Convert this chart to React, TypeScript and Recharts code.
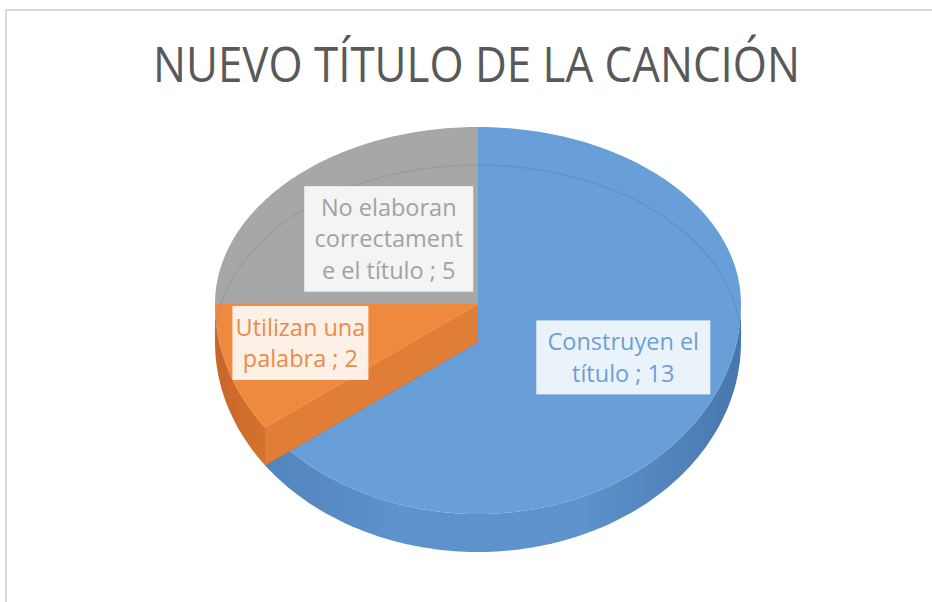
import React from "react";
import { PieChart, Pie } from "recharts";

// chart data
const categories = [
  "Construyen el título",
  "Utilizan una palabra",
  "No elaboran correctamente el título",
];
const values = [13, 2, 5];
const labelLines = [
  ["Construyen el", "título"],
  ["Utilizan una", "palabra"],
  ["No elaboran", "correctament", "e el título"],
];
const chartTitle = "NUEVO TÍTULO DE LA CANCIÓN";

const data = categories.map((name, i) => ({ name, value: values[i] }));

// look
const topColors = ["#689FD8", "#EE893E", "#A7A7A7"];
const wallColors = ["#5B8FC8", "#E07D36", "#909090"];
const lineColors = ["#4C7DB6", "#C96A26", "#8A8A8A"];
const textColors = ["#6C9FD5", "#EA8B4B", "#A2A2A2"];

const RX = 263;
const RY_BACK = 177;
const RY_FRONT = 210;
const DEPTH = 38;
const LINE_H = 31.5;
const FONT = "'Open Sans', 'Noto Sans', sans-serif";
const LABEL_FX = [0.62, 0.71, 0.48];
const LABEL_FY = [0.56, 0.6, 0.52];
const BOX_W = [174, 136, 169];

type P = [number, number];

const pt = (cx: number, cy: number, r: number, a: number, dy = 0): P => {
  const rad = (a * Math.PI) / 180;
  const s = Math.sin(rad);
  const ry = ((s > 0 ? RY_BACK : RY_FRONT) * r) / RX;
  return [cx + r * Math.cos(rad), cy - s * ry + dy];
};

const arc = (cx: number, cy: number, r: number, a1: number, a2: number, dy = 0) => {
  const n = Math.max(2, Math.ceil(Math.abs(a2 - a1)));
  const pts: P[] = [];
  for (let k = 0; k <= n; k++) pts.push(pt(cx, cy, r, a1 + ((a2 - a1) * k) / n, dy));
  return pts;
};

const toPath = (pts: P[]) =>
  pts.map((p, i) => `${i ? "L" : "M"}${p[0].toFixed(1)},${p[1].toFixed(1)}`).join("");

const renderSide = (p: any) => {
  const { cx, cy, outerRadius: r, startAngle, endAngle, index } = p;
  const hi = Math.min(startAngle, 0);
  const lo = Math.max(endAngle, -180);
  const defs =
    index === 0 ? (
      <defs>
        <linearGradient id="side0" gradientUnits="userSpaceOnUse" x1={cx - r} x2={cx + r} y1={0} y2={0}>
          <stop offset="0" stopColor="#4F7FB8" />
          <stop offset="0.35" stopColor="#5D92CC" />
          <stop offset="0.7" stopColor="#5D92CC" />
          <stop offset="1" stopColor="#4877AE" />
        </linearGradient>
        <linearGradient id="side1" gradientUnits="userSpaceOnUse" x1={cx - r} x2={cx - r + 80} y1={0} y2={0}>
          <stop offset="0" stopColor="#C7662A" />
          <stop offset="1" stopColor="#DE7A33" />
        </linearGradient>
        <linearGradient id="side2" x1="0" x2="1" y1="0" y2="0">
          <stop offset="0" stopColor="#8C8C8C" />
          <stop offset="1" stopColor="#8C8C8C" />
        </linearGradient>
      </defs>
    ) : null;
  if (hi <= lo) return <g>{defs}</g>;
  const pts = [...arc(cx, cy, r, hi, lo), ...arc(cx, cy, r, lo, hi, DEPTH)];
  return (
    <g>
      {defs}
      <path d={toPath(pts) + "Z"} fill={`url(#side${index})`} />
    </g>
  );
};

const renderTop = (p: any) => {
  const { cx, cy, outerRadius: r, startAngle, endAngle, index } = p;
  const face = toPath([[cx, cy], ...arc(cx, cy, r, startAngle, endAngle)]) + "Z";
  // back rim of the bottom face, seen through the translucent top
  const back = arc(cx, cy, r, startAngle, endAngle, DEPTH).filter(
    (_, k, all) => {
      const a = startAngle + ((endAngle - startAngle) * k) / (all.length - 1);
      return Math.sin((a * Math.PI) / 180) > 0.02;
    }
  );
  const rad = (startAngle * Math.PI) / 180;
  const showWall = index > 0 && Math.sin(rad) < -0.02 && Math.cos(rad) < -0.02;
  const e1 = pt(cx, cy, r, startAngle);
  const e2 = pt(cx, cy, r, startAngle, DEPTH);
  return (
    <g>
      <path d={face} fill={topColors[index]} />
      {back.length > 1 && (
        <path d={toPath(back)} fill="none" stroke={lineColors[index]} strokeOpacity={0.35} strokeWidth={1.5} />
      )}
      {showWall && (
        <g>
          <path
            d={toPath([[cx, cy], e1, e2, [cx, cy + DEPTH]]) + "Z"}
            fill={wallColors[index]}
          />
          <path d={toPath([e1, [cx, cy]])} stroke="#F59A55" strokeOpacity={0.6} fill="none" />
          <path d={toPath([e2, [cx, cy + DEPTH]])} stroke={lineColors[index]} strokeOpacity={0.5} fill="none" />
        </g>
      )}
    </g>
  );
};

const renderBox = (p: any) => {
  const { cx, cy, outerRadius: r, startAngle, endAngle, index, value } = p;
  const mid = ((startAngle + endAngle) / 2) * (Math.PI / 180);
  const s = Math.sin(mid);
  const x = cx + r * Math.cos(mid) * LABEL_FX[index];
  const y = cy - s * (((s > 0 ? RY_BACK : RY_FRONT) * r) / RX) * LABEL_FY[index];
  const lines = labelLines[index].slice();
  lines[lines.length - 1] = `${lines[lines.length - 1]} ; ${value}`;
  const w = BOX_W[index];
  const h = lines.length * LINE_H + 11;
  return (
    <g>
      <rect x={x - w / 2} y={y - h / 2} width={w} height={h} fill="#FFFFFF" fillOpacity={0.87} />
      {lines.map((t, k) => (
        <text
          key={k}
          x={x}
          y={y + (k - (lines.length - 1) / 2) * LINE_H + 8.5}
          textAnchor="middle"
          fontFamily={FONT}
          fontSize={23.5}
          fill={textColors[index]}
        >
          {t}
        </text>
      ))}
    </g>
  );
};

const App = () => {
  return (
    <div
      style={{
        position: "fixed",
        left: 0,
        top: 0,
        width: 932,
        height: 602,
        overflow: "hidden",
        background: "#fff",
      }}
    >
      <div
        style={{
          position: "absolute",
          left: 5,
          top: 9,
          width: 1000,
          height: 1000,
          border: "2px solid #D9D9D9",
        }}
      />
      <svg width={932} height={110} style={{ position: "absolute", left: 0, top: 0 }}>
        <text
          x={476.5}
          y={82}
          textAnchor="middle"
          fontFamily={FONT}
          fontSize={50}
          fill="#595959"
          textLength={647}
          lengthAdjust="spacingAndGlyphs"
        >
          {chartTitle}
        </text>
      </svg>
      <div style={{ position: "absolute", left: 0, top: 0 }}>
        <PieChart width={932} height={602} margin={{ top: 0, right: 0, bottom: 0, left: 0 }}>
          <Pie
            data={data}
            dataKey="value"
            nameKey="name"
            cx={478}
            cy={304}
            outerRadius={RX}
            startAngle={90}
            endAngle={-270}
            fill="none"
            stroke="none"
            label={renderSide}
            labelLine={false}
            isAnimationActive={false}
          />
          <Pie
            data={data}
            dataKey="value"
            nameKey="name"
            cx={478}
            cy={304}
            outerRadius={RX}
            startAngle={90}
            endAngle={-270}
            fill="none"
            stroke="none"
            label={renderTop}
            labelLine={false}
            isAnimationActive={false}
          />
          <Pie
            data={data}
            dataKey="value"
            nameKey="name"
            cx={478}
            cy={304}
            outerRadius={RX}
            startAngle={90}
            endAngle={-270}
            fill="none"
            stroke="none"
            label={renderBox}
            labelLine={false}
            isAnimationActive={false}
          />
        </PieChart>
      </div>
    </div>
  );
};

export default App;
